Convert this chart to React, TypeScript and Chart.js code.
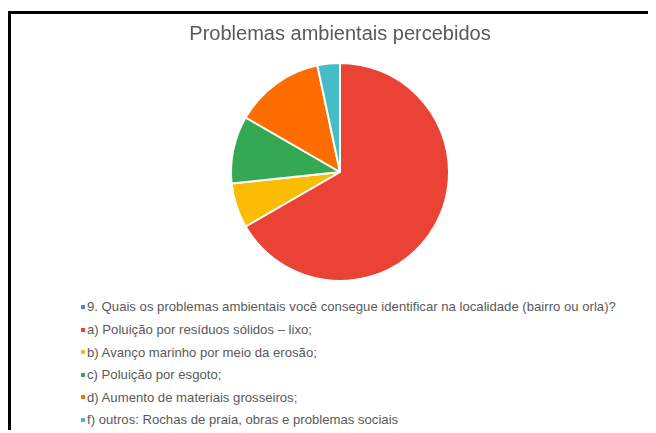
import React, { useEffect, useRef } from "react";
import { Chart, registerables } from "chart.js";

Chart.register(...registerables);

const chartTitle = "Problemas ambientais percebidos";
const categories = [
  "9. Quais os problemas ambientais você consegue identificar na localidade (bairro ou orla)?",
  "a) Poluição por resíduos sólidos – lixo;",
  "b) Avanço marinho por meio da erosão;",
  "c) Poluição por esgoto;",
  "d) Aumento de materiais grosseiros;",
  "f) outros: Rochas de praia, obras e problemas sociais",
];
const values = [0, 20, 2, 3, 4, 1];
const colors = ["#4285F4", "#EA4335", "#FBBC04", "#34A853", "#FF6D01", "#46BDC6"];

const FONT = "'Liberation Sans', Arial, sans-serif";

export default function App() {
  const canvasRef = useRef<HTMLCanvasElement | null>(null);

  useEffect(() => {
    document.body.style.overflow = "hidden";
    const canvas = canvasRef.current;
    if (!canvas) return;
    const chart = new Chart(canvas, {
      type: "pie",
      data: {
        labels: categories,
        datasets: [
          {
            data: values,
            backgroundColor: colors,
            borderColor: "#ffffff",
            borderWidth: 2,
            radius: 109,
          },
        ],
      },
      options: {
        animation: false,
        responsive: false,
        maintainAspectRatio: false,
        layout: { padding: 0 },
        plugins: {
          legend: { display: false },
          tooltip: { enabled: false },
          title: {
            display: true,
            text: chartTitle,
            color: "#595959",
            font: { family: FONT, size: 20, weight: "normal" },
            padding: { top: 8, bottom: 10 },
          },
        },
      },
    });
    return () => chart.destroy();
  }, []);

  return (
    <div
      style={{
        position: "relative",
        top: 3,
        width: 645,
        height: 419,
        borderTop: "3px solid #000",
        borderLeft: "3px solid #000",
        overflow: "hidden",
        background: "#fff",
      }}
    >
      <div style={{ position: "absolute", left: 0, top: 0, width: 658, height: 274 }}>
        <canvas ref={canvasRef} width={658} height={274} style={{ width: 658, height: 274 }} />
      </div>
      <div style={{ position: "absolute", left: 70, top: 281.7 }}>
        {categories.map((c, i) => (
          <div
            key={i}
            style={{
              height: 22.6,
              display: "flex",
              alignItems: "center",
              fontFamily: FONT,
              fontSize: 13.15,
              color: "#595959",
              whiteSpace: "nowrap",
            }}
          >
            <span
              style={{
                display: "inline-block",
                width: 4,
                height: 4,
                background: colors[i],
                marginRight: 2,
              }}
            />
            <span>{c}</span>
          </div>
        ))}
      </div>
    </div>
  );
}
